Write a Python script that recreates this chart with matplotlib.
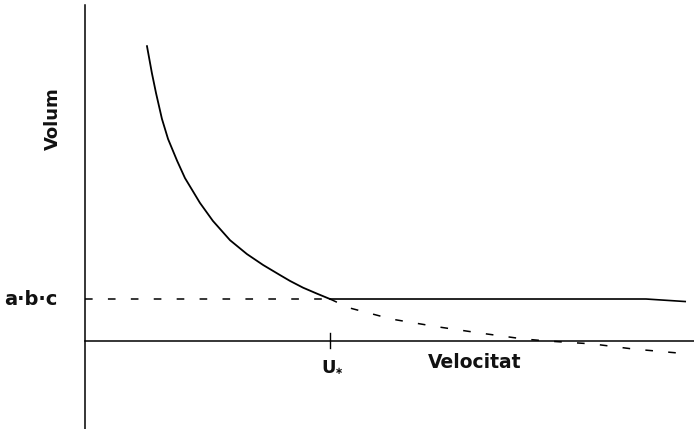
import matplotlib
matplotlib.use("Agg")
import matplotlib.pyplot as plt

# curve above the critical speed (x in units of U*, y in units of a*b*c)
curve_x = [0.253, 0.273, 0.290, 0.314, 0.339, 0.376, 0.408, 0.437, 0.469, 0.522,
           0.592, 0.661, 0.727, 0.796, 0.837, 0.890, 0.946, 1.0]
curve_y = [7.02, 6.38, 5.90, 5.29, 4.81, 4.29, 3.88, 3.60, 3.29, 2.86,
           2.40, 2.07, 1.81, 1.57, 1.43, 1.27, 1.13, 1.0]

# dashed continuation of the curve past U*
tail_x = [1.0, 1.078, 1.253, 1.437, 1.612, 1.788, 1.886, 2.073, 2.237, 2.429]
tail_y = [1.0, 0.79, 0.52, 0.34, 0.19, 0.05, 0.0, -0.07, -0.19, -0.29]

# flat limit line
flat_x = [1.0, 2.29, 2.45]
flat_y = [1.0, 1.0, 0.94]

level = 1.0
u_star = 1.0

fig = plt.figure(figsize=(6.94, 4.29), dpi=100)
ax = fig.add_axes([0, 0, 1, 1])
ax.set_xlim(-0.347, 2.486)
ax.set_ylim(-2.095, 8.119)
ax.axis('off')

# axes drawn by hand
ax.axvline(0, ymin=0, ymax=0.988, color='black', lw=1.1)
ax.axhline(0, xmin=0.122, xmax=1, color='black', lw=1.1)

ax.plot(curve_x, curve_y, color='black', lw=1.3, solid_joinstyle='round')
ax.plot(flat_x, flat_y, color='black', lw=1.2)
ax.plot([0, u_star], [level, level], color='black', lw=1.1, dashes=(5, 10))
ax.plot(tail_x, tail_y, color='black', lw=1.1, dashes=(5, 10))

# tick at U*
ax.plot([u_star, u_star], [0.2, -0.17], color='black', lw=1.0)

font = 'DejaVu Sans'
lab = dict(family=font, fontweight='bold', color='#111111')
ax.text(-0.22, level, 'a·b·c', ha='center', va='center', fontsize=14, **lab)
ax.text(u_star - 0.005, -0.42, 'U', ha='center', va='top', fontsize=13, **lab)
ax.text(u_star + 0.035, -0.72, '∗', ha='center', va='center', fontsize=7, **lab)
ax.text(1.59, -0.28, 'Velocitat', ha='center', va='top', fontsize=13.5, **lab)
ax.text(-0.13, 5.3, 'Volum', ha='center', va='center', rotation=90, fontsize=13, **lab)

fig.savefig('out.png', dpi=100)
